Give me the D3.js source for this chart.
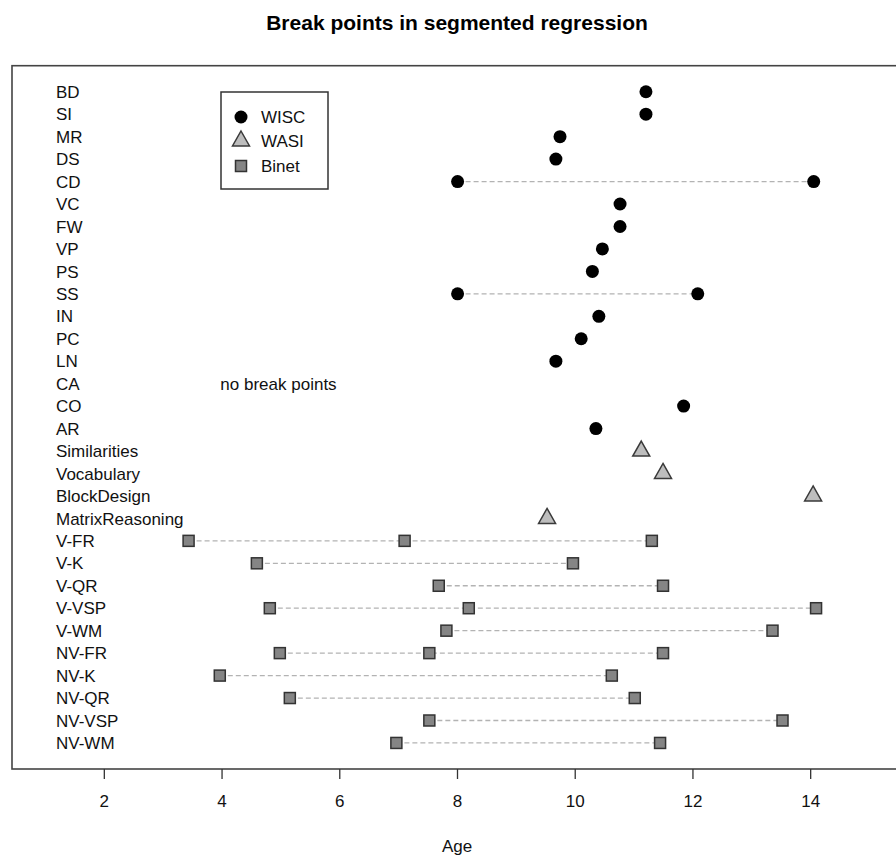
<!DOCTYPE html>
<html>
<head>
<meta charset="utf-8">
<script src="https://cdn.jsdelivr.net/npm/d3@7"></script>
<style>
  body { margin: 0; background: #fff; }
  svg { font-family: "Liberation Sans", Arial, sans-serif; }
</style>
</head>
<body>
<svg id="chart" width="896" height="855"></svg>
<script>
// WISC subtests and their break points (age)
const wiscTests = ["BD", "SI", "MR", "DS", "CD", "VC", "FW", "VP", "PS", "SS", "IN", "PC", "LN", "CA", "CO", "AR"];
const wiscBreaks = [[11.21], [11.21], [9.75], [9.68], [8.01, 14.06], [10.77], [10.77], [10.47], [10.30],
  [8.01, 12.09], [10.41], [10.11], [9.68], [], [11.85], [10.36]];

// WASI subtests
const wasiTests = ["Similarities", "Vocabulary", "BlockDesign", "MatrixReasoning"];
const wasiBreaks = [[11.13], [11.50], [14.05], [9.53]];

// Binet subtests
const binetTests = ["V-FR", "V-K", "V-QR", "V-VSP", "V-WM", "NV-FR", "NV-K", "NV-QR", "NV-VSP", "NV-WM"];
const binetBreaks = [[3.44, 7.11, 11.31], [4.60, 9.97], [7.69, 11.50], [4.82, 8.20, 14.10], [7.82, 13.36],
  [4.99, 7.53, 11.50], [3.97, 10.63], [5.16, 11.02], [7.53, 13.53], [6.97, 11.45]];

const xTicks = [2, 4, 6, 8, 10, 12, 14];
const legendLabels = ["WISC", "WASI", "Binet"];

const svg = d3.select("#chart");
const font = 17;

// build one row list
const rows = [];
wiscTests.forEach((t, i) => rows.push({ name: t, group: "WISC", breaks: wiscBreaks[i] }));
wasiTests.forEach((t, i) => rows.push({ name: t, group: "WASI", breaks: wasiBreaks[i] }));
binetTests.forEach((t, i) => rows.push({ name: t, group: "Binet", breaks: binetBreaks[i] }));
rows.forEach((r, i) => r.idx = i);

// scales (R style 4% padding around xlim 1..15 and rows 1..30)
const x = d3.scaleLinear().domain([0.44, 15.56]).range([12, 902]);
const y = d3.scaleLinear().domain([-1.16, rows.length - 1 + 1.16]).range([65.7, 769]);

// title
svg.append("text")
  .attr("x", 457).attr("y", 30)
  .attr("text-anchor", "middle")
  .attr("font-size", 21).attr("font-weight", "bold")
  .text("Break points in segmented regression");

// box
svg.append("rect")
  .attr("x", 12).attr("y", 65.7)
  .attr("width", 890).attr("height", 769 - 65.7)
  .attr("fill", "none").attr("stroke", "#444").attr("stroke-width", 1.6);

// x axis
const xAxis = svg.append("g")
  .attr("transform", "translate(0,769)")
  .call(d3.axisBottom(x).tickValues(xTicks).tickSize(10).tickPadding(16).tickFormat(d3.format("d")));
xAxis.select(".domain").remove();
xAxis.selectAll("line").attr("stroke", "#333").attr("stroke-width", 1.3);
xAxis.selectAll("text").attr("font-size", font).attr("fill", "#111")
  .attr("font-family", "\"Liberation Sans\", Arial, sans-serif");

svg.append("text")
  .attr("x", 457).attr("y", 852)
  .attr("text-anchor", "middle")
  .attr("font-size", font).attr("fill", "#111")
  .text("Age");

// row labels
svg.append("g").selectAll("text")
  .data(rows)
  .join("text")
  .attr("x", 56)
  .attr("y", d => y(d.idx))
  .attr("dy", "0.36em")
  .attr("font-size", font).attr("fill", "#111")
  .text(d => d.name);

// dashed connecting lines
svg.append("g").selectAll("line")
  .data(rows.filter(r => r.breaks.length > 1))
  .join("line")
  .attr("x1", d => x(d3.min(d.breaks)))
  .attr("x2", d => x(d3.max(d.breaks)))
  .attr("y1", d => y(d.idx))
  .attr("y2", d => y(d.idx))
  .attr("stroke", "#b3b3b3")
  .attr("stroke-width", 1.3)
  .attr("stroke-dasharray", "5,3");

// marker drawing
function drawMarker(sel, group) {
  if (group === "WISC") {
    sel.append("circle").attr("r", 6.5).attr("fill", "#000");
  } else if (group === "WASI") {
    sel.append("path").attr("d", "M0,-10L8.5,5L-8.5,5Z")
      .attr("fill", "#bdbdbd").attr("stroke", "#3a3a3a").attr("stroke-width", 1.5);
  } else {
    sel.append("rect").attr("x", -5.5).attr("y", -5.5).attr("width", 11).attr("height", 11)
      .attr("fill", "#858585").attr("stroke", "#333").attr("stroke-width", 1.5);
  }
}

const pts = [];
rows.forEach(r => r.breaks.forEach(b => pts.push({ group: r.group, v: b, idx: r.idx })));
svg.append("g").selectAll("g")
  .data(pts)
  .join("g")
  .attr("transform", d => `translate(${x(d.v)},${y(d.idx)})`)
  .each(function(d) { drawMarker(d3.select(this), d.group); });

// note for CA
svg.append("text")
  .attr("x", x(3.98))
  .attr("y", y(wiscTests.indexOf("CA")))
  .attr("dy", "0.36em")
  .attr("font-size", font).attr("fill", "#111")
  .text("no break points");

// legend
const legend = svg.append("g");
legend.append("rect")
  .attr("x", 221).attr("y", 92).attr("width", 107).attr("height", 97)
  .attr("fill", "#fff").attr("stroke", "#333").attr("stroke-width", 1.5);
const legendY = [117, 141, 166];
legendLabels.forEach((lab, i) => {
  const g = legend.append("g").attr("transform", `translate(241,${legendY[i]})`);
  drawMarker(g, lab);
  legend.append("text")
    .attr("x", 261).attr("y", legendY[i])
    .attr("dy", "0.36em")
    .attr("font-size", font).attr("fill", "#111")
    .text(lab);
});
</script>
</body>
</html>
